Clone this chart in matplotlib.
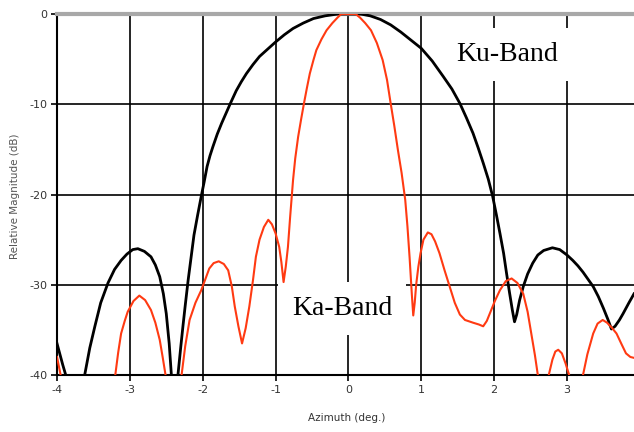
import numpy as np
import matplotlib.pyplot as plt

plt.rcParams['axes.unicode_minus'] = False

# Ku-band pattern (black)
ku_az = [-4.00, -3.96, -3.92, -3.88, -3.75, -3.62, -3.55, -3.48, -3.40, -3.30,
         -3.21, -3.12, -3.04, -2.96, -2.89, -2.80, -2.71, -2.65, -2.59, -2.54,
         -2.50, -2.46, -2.43, -2.39, -2.34, -2.30, -2.27, -2.24, -2.20, -2.16,
         -2.12, -2.07, -2.02, -1.98, -1.94, -1.90, -1.86, -1.80, -1.74, -1.68,
         -1.62, -1.54, -1.47, -1.40, -1.31, -1.22, -1.11, -1.00, -0.88, -0.76,
         -0.62, -0.48, -0.32, -0.15, 0.00, 0.17, 0.30, 0.44, 0.58, 0.72,
         0.86, 1.00, 1.15, 1.30, 1.42, 1.53, 1.62, 1.71, 1.78, 1.85,
         1.92, 1.98, 2.03, 2.08, 2.13, 2.17, 2.21, 2.25, 2.28, 2.31,
         2.35, 2.40, 2.46, 2.53, 2.60, 2.68, 2.80, 2.90, 3.00, 3.08,
         3.15, 3.22, 3.29, 3.36, 3.43, 3.50, 3.56, 3.61, 3.66, 3.72,
         3.77, 3.85, 3.92]
ku_db = [-36.5, -37.7, -38.9, -40.0, -45.0, -40.0, -37.0, -34.6, -32.0, -29.8,
         -28.3, -27.3, -26.6, -26.1, -26.0, -26.3, -26.9, -27.8, -29.1, -31.0,
         -33.2, -36.5, -40.0, -45.0, -40.0, -36.8, -34.5, -32.3, -29.5, -27.0,
         -24.5, -22.3, -20.2, -18.6, -16.9, -15.7, -14.7, -13.3, -12.1, -11.0,
         -9.9, -8.5, -7.5, -6.6, -5.6, -4.7, -3.9, -3.1, -2.3, -1.6,
         -1.0, -0.5, -0.2, 0.0, 0.0, 0.0, -0.2, -0.6, -1.2, -2.0,
         -2.9, -3.8, -5.2, -6.9, -8.3, -9.9, -11.5, -13.2, -14.8, -16.5,
         -18.3, -20.2, -22.2, -24.3, -26.5, -28.7, -30.8, -32.8, -34.1, -33.3,
         -31.7, -30.2, -28.8, -27.6, -26.7, -26.2, -25.9, -26.1, -26.7, -27.3,
         -27.9, -28.6, -29.4, -30.2, -31.3, -32.6, -33.8, -34.9, -34.6, -33.9,
         -33.2, -32.0, -31.0]

# Ka-band pattern (red)
ka_az = [-4.00, -3.95, -3.60, -3.20, -3.16, -3.12, -3.07, -3.03, -2.95, -2.87,
         -2.79, -2.71, -2.65, -2.59, -2.55, -2.51, -2.40, -2.29, -2.24, -2.18,
         -2.10, -2.02, -1.96, -1.91, -1.85, -1.78, -1.71, -1.65, -1.60, -1.56,
         -1.51, -1.46, -1.41, -1.36, -1.31, -1.27, -1.22, -1.16, -1.10, -1.05,
         -1.00, -0.95, -0.92, -0.89, -0.86, -0.83, -0.80, -0.76, -0.73, -0.69,
         -0.65, -0.61, -0.57, -0.53, -0.48, -0.44, -0.37, -0.30, -0.22, -0.15,
         -0.10, 0.10, 0.16, 0.23, 0.31, 0.39, 0.47, 0.53, 0.58, 0.63,
         0.68, 0.73, 0.78, 0.81, 0.84, 0.87, 0.89, 0.91, 0.93, 0.96,
         0.99, 1.03, 1.09, 1.14, 1.19, 1.25, 1.32, 1.39, 1.46, 1.53,
         1.60, 1.71, 1.79, 1.85, 1.90, 1.94, 2.01, 2.08, 2.16, 2.24,
         2.32, 2.40, 2.46, 2.51, 2.56, 2.60, 2.68, 2.75, 2.80, 2.84,
         2.88, 2.93, 2.98, 3.03, 3.12, 3.22, 3.28, 3.36, 3.42, 3.49,
         3.55, 3.62, 3.68, 3.75, 3.81, 3.87, 3.92]
ka_db = [-38.0, -40.0, -48.0, -40.0, -37.5, -35.4, -34.0, -33.0, -31.8, -31.2,
         -31.7, -32.8, -34.2, -36.1, -38.0, -40.0, -45.0, -40.0, -36.8, -33.9,
         -32.0, -30.6, -29.3, -28.2, -27.6, -27.4, -27.7, -28.4, -30.2, -32.4,
         -34.6, -36.5, -34.8, -32.4, -29.5, -26.9, -25.0, -23.6, -22.8, -23.3,
         -24.3, -25.8, -27.5, -29.7, -28.0, -25.8, -22.5, -18.4, -16.0, -13.6,
         -11.7, -9.9, -8.2, -6.6, -5.1, -4.0, -2.8, -1.8, -1.0, -0.4,
         0.0, 0.0, -0.4, -1.0, -1.8, -3.2, -5.1, -7.3, -9.9, -12.4,
         -15.1, -17.6, -20.6, -23.5, -27.0, -31.0, -33.4, -32.0, -30.0, -28.0,
         -26.5, -25.0, -24.2, -24.4, -25.2, -26.5, -28.4, -30.2, -32.0, -33.3,
         -33.9, -34.2, -34.4, -34.6, -34.0, -33.2, -31.8, -30.6, -29.6, -29.3,
         -29.8, -31.0, -33.0, -35.4, -37.8, -40.0, -43.0, -40.0, -38.3, -37.4,
         -37.2, -37.6, -38.7, -40.0, -43.0, -40.0, -37.7, -35.4, -34.3, -33.9,
         -34.2, -34.8, -35.4, -36.6, -37.6, -38.0, -38.1]

x_ticks = [-4, -3, -2, -1, 0, 1, 2, 3]
y_ticks = [-40, -30, -20, -10, 0]

fig = plt.figure(figsize=(6.34, 4.32), dpi=100)
ax = fig.add_axes([0.0899, 0.1319, 0.9101, 0.8356])

ax.plot(ku_az, ku_db, color='black', lw=2.0, zorder=4)
ax.plot(ka_az, ka_db, color='#ff3a12', lw=1.5, zorder=5)

ax.set_xlim(-4, 3.92)
ax.set_ylim(-40, 0)
ax.set_xticks(x_ticks)
ax.set_yticks(y_ticks)
ax.grid(True, color='black', lw=1.2, zorder=1)
ax.set_axisbelow(True)

ax.spines['right'].set_visible(False)
ax.spines['top'].set_color('#a8a8a8')
ax.spines['top'].set_linewidth(3)
ax.spines['left'].set_linewidth(1.5)
ax.spines['bottom'].set_linewidth(1.5)

ax.tick_params(direction='out', length=4, width=1.2, labelsize=8,
               labelcolor='#333333', pad=3)

ax.set_xlabel('Azimuth (deg.)', fontsize=7.5, color='#333333')
ax.set_ylabel('Relative Magnitude (dB)', fontsize=7.5, color='#555555')
ax.xaxis.set_label_coords(0.5026, -0.105)
ax.yaxis.set_label_coords(-0.064, 0.496)

box = dict(boxstyle='square,pad=0.5', fc='white', ec='none')
ax.text(2.18, -5.17, 'Ku-Band', family='Liberation Serif', fontsize=20,
        ha='center', va='baseline', bbox=box, zorder=3)
ax.text(-0.09, -33.35, 'Ka-Band', family='Liberation Serif', fontsize=20,
        ha='center', va='baseline', bbox=box, zorder=3)

fig.savefig('out.png', dpi=100)
